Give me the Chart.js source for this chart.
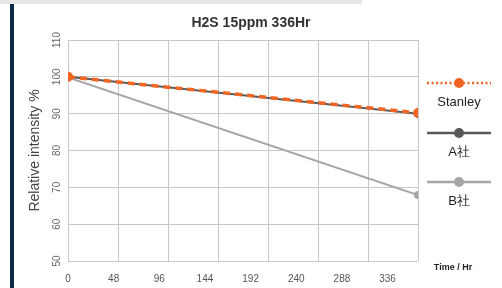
<!DOCTYPE html>
<html lang="ja">
<head>
    <meta charset="UTF-8">
    <title>H2S 15ppm 336Hr</title>
    <script src="https://cdn.jsdelivr.net/npm/chart.js"></script>
    <style>
        body { margin: 0; background: #fff; }
        .wrap { position: relative; width: 502px; height: 288px; overflow: hidden; }
        .topbar { position: absolute; left: 0; top: 0; width: 362px; height: 4px; background: #e6e6e6; }
        .sidebar { position: absolute; left: 10px; top: 4px; width: 4px; height: 284px; background: #0f2a47; }
        canvas { position: absolute; left: 0; top: 0; }
    </style>
</head>
<body>
<div class="wrap">
    <div class="topbar"></div>
    <div class="sidebar"></div>
    <canvas id="myChart" width="502" height="288"></canvas>
</div>
<script>
    // data
    const hours = [0, 368];
    const xTicks = [0, 48, 96, 144, 192, 240, 288, 336];
    const yTicks = [50, 60, 70, 80, 90, 100, 110];
    const stanley = [100, 90.2];
    const companyA = [100, 90];
    const companyB = [99.8, 67.9];
    const names = ['Stanley', 'A社', 'B社'];
    const colors = ['#f26522', '#595959', '#a6a6a6'];

    const FONT = '"Liberation Sans", Arial, sans-serif';
    const toPoints = arr => arr.map((v, i) => ({ x: hours[i], y: v }));

    // titles, rotated y labels and legend
    const extras = {
        id: 'extras',
        afterDraw(chart) {
            const c = chart.ctx;
            const area = chart.chartArea;
            const ys = chart.scales.y;
            c.save();
            c.textAlign = 'center';
            c.textBaseline = 'middle';

            c.font = 'bold 14px ' + FONT;
            c.fillStyle = '#333';
            c.fillText('H2S 15ppm 336Hr', 251, 23);

            c.font = 'bold 9px ' + FONT;
            c.fillStyle = '#222';
            c.fillText('Time / Hr', 453, 268);

            // y tick labels, vertical
            c.font = '10px ' + FONT;
            c.fillStyle = '#666';
            yTicks.forEach(v => {
                c.save();
                c.translate(57, ys.getPixelForValue(v));
                c.rotate(-Math.PI / 2);
                c.fillText(String(v), 0, 0);
                c.restore();
            });

            c.save();
            c.font = '14px ' + FONT;
            c.fillStyle = '#444';
            c.translate(35, (area.top + area.bottom) / 2);
            c.rotate(-Math.PI / 2);
            c.fillText('Relative intensity %', 0, 0);
            c.restore();

            // legend
            const rows = [83, 133, 182];
            chart.data.datasets.forEach((ds, i) => {
                const y = rows[i];
                c.beginPath();
                c.strokeStyle = ds.borderColor;
                c.lineWidth = 2.5;
                c.setLineDash(i === 0 ? [2, 2.5] : []);
                c.moveTo(427, y);
                c.lineTo(491, y);
                c.stroke();
                c.setLineDash([]);
                c.beginPath();
                c.fillStyle = ds.backgroundColor;
                c.arc(459, y, 5, 0, Math.PI * 2);
                c.fill();
                c.font = '13px ' + FONT;
                c.fillStyle = '#222';
                c.fillText(ds.label, 459, y + 19);
            });
            c.restore();
        }
    };

    const ctx = document.getElementById('myChart').getContext('2d');
    const myChart = new Chart(ctx, {
        type: 'line',
        data: {
            datasets: [
                {
                    label: names[0],
                    data: toPoints(stanley),
                    borderColor: colors[0],
                    backgroundColor: colors[0],
                    borderWidth: 3.5,
                    borderDash: [7, 5],
                    pointRadius: 5,
                    pointBorderWidth: 0
                },
                {
                    label: names[1],
                    data: toPoints(companyA),
                    borderColor: colors[1],
                    backgroundColor: colors[1],
                    borderWidth: 2,
                    pointRadius: 4,
                    pointBorderWidth: 0
                },
                {
                    label: names[2],
                    data: toPoints(companyB),
                    borderColor: colors[2],
                    backgroundColor: colors[2],
                    borderWidth: 2,
                    pointRadius: 4,
                    pointBorderWidth: 0
                }
            ]
        },
        options: {
            responsive: false,
            animation: false,
            layout: { padding: { left: 0, right: 84, top: 40, bottom: 0 } },
            plugins: {
                legend: { display: false },
                tooltip: { enabled: false }
            },
            scales: {
                x: {
                    type: 'linear',
                    min: hours[0],
                    max: hours[hours.length - 1],
                    afterBuildTicks: s => { s.ticks = xTicks.map(v => ({ value: v })); },
                    afterFit: s => { s.height = 27; },
                    grid: { display: false },
                    border: { display: false },
                    ticks: {
                        padding: 4,
                        maxRotation: 0,
                        autoSkip: false,
                        color: '#555',
                        font: { family: FONT, size: 10 }
                    }
                },
                // vertical grid of the original sits on sevenths of the width
                xg: {
                    type: 'linear',
                    position: 'top',
                    min: 0,
                    max: 7,
                    afterFit: s => { s.height = 0; },
                    ticks: { display: false, stepSize: 1 },
                    grid: { color: '#c8c8c8', lineWidth: 1, drawTicks: false },
                    border: { display: false }
                },
                y: {
                    min: yTicks[0],
                    max: yTicks[yTicks.length - 1],
                    afterBuildTicks: s => { s.ticks = yTicks.map(v => ({ value: v })); },
                    afterFit: s => { s.width = 68; },
                    ticks: { display: false },
                    grid: { color: '#c8c8c8', lineWidth: 1, drawTicks: false },
                    border: { display: false }
                }
            }
        },
        plugins: [extras]
    });
</script>
</body>
</html>
